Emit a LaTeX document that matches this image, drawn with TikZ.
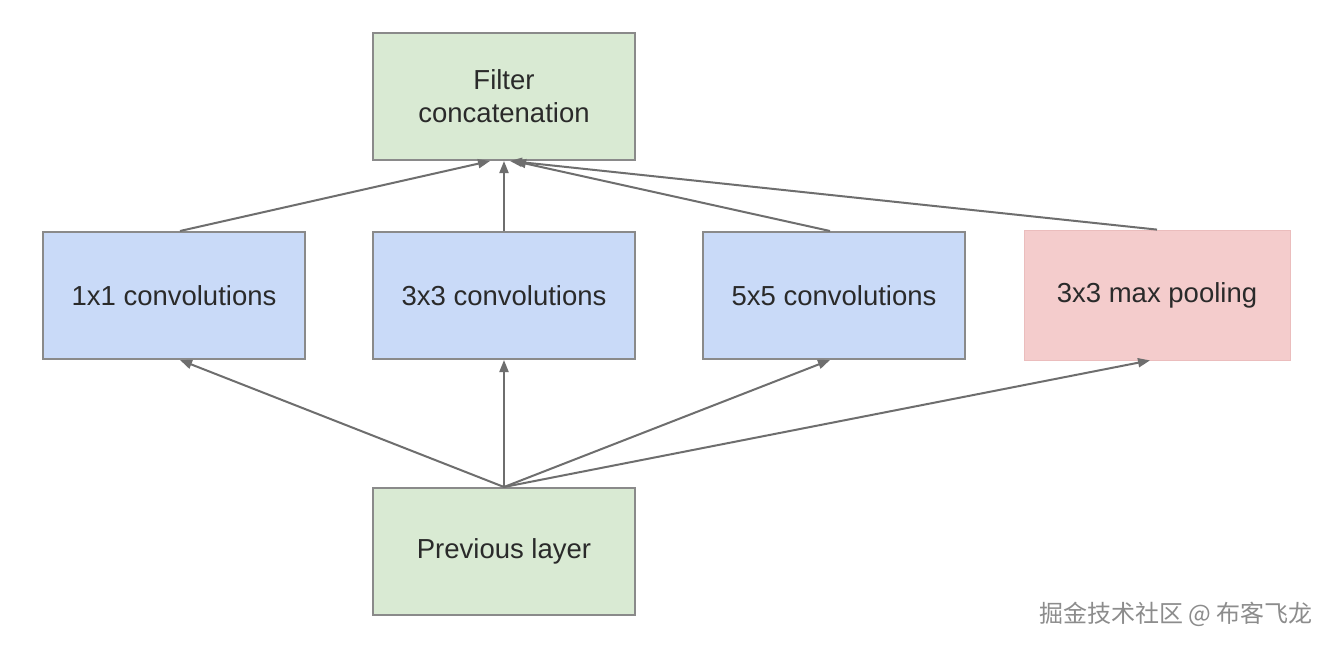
\documentclass[tikz,border=0pt]{standalone}
\usepackage{fontspec}
\setmainfont{Liberation Sans}
\newfontfamily\cjk{Noto Sans CJK SC}
\usetikzlibrary{arrows.meta}
\definecolor{boxgreen}{HTML}{D9EAD3}
\definecolor{boxblue}{HTML}{C9DAF8}
\definecolor{boxpink}{HTML}{F4CCCC}
\definecolor{boxedge}{HTML}{8A8A8A}
\definecolor{pinkedge}{HTML}{EBBDBD}
\definecolor{txt}{HTML}{2A2A2A}
\definecolor{arr}{HTML}{6E6E6E}
\definecolor{wm}{HTML}{8C8C8C}
\begin{document}
\begin{tikzpicture}[x=1pt,y=-1pt,
  blk/.style={draw=boxedge,line width=2pt,minimum width=262pt,minimum height=127pt,
    inner sep=0pt,align=center,text=txt,font=\fontsize{27.5}{33}\selectfont},
  greenbox/.style={blk,fill=boxgreen},
  bluebox/.style={blk,fill=boxblue},
  pinkbox/.style={blk,fill=boxpink,draw=pinkedge,line width=0.8pt,minimum width=266pt,minimum height=130pt},
  link/.style={draw=arr,line width=2pt,-{Triangle[length=12pt,width=9pt]}}]
\useasboundingbox (0,0) rectangle (1333,649);
\fill[white] (0,0) rectangle (1333,649);
\node[greenbox] (concat) at (504,96.5) {Filter\\concatenation};
\node[bluebox] (c1) at (174,295.5) {1x1 convolutions};
\node[bluebox] (c3) at (504,295.5) {3x3 convolutions};
\node[bluebox] (c5) at (834,295.5) {5x5 convolutions};
\node[pinkbox] (mp) at (1157,295) {3x3 max pooling};
\node[greenbox] (prev) at (504,551.5) {Previous layer};
% bottom arrows
\draw[link] (prev.north) -- ([xshift=6pt]c1.south);
\draw[link] (prev.north) -- (c3.south);
\draw[link] (prev.north) -- ([xshift=-4pt]c5.south);
\draw[link] (prev.north) -- ([xshift=-7pt]mp.south);
% top arrows
\draw[link] ([xshift=6pt]c1.north) -- ([xshift=-14pt]concat.south);
\draw[link] (c3.north) -- (concat.south);
\draw[link] ([xshift=-4pt]c5.north) -- ([xshift=10pt]concat.south);
\draw[link] (mp.north) -- ([xshift=6pt]concat.south);
\node[anchor=east,text=wm,font=\cjk\fontsize{24}{28}\selectfont,inner sep=0pt] (wmk) at (1313,614) {掘金技术社区 @ 布客飞龙};
\end{tikzpicture}
\end{document}
